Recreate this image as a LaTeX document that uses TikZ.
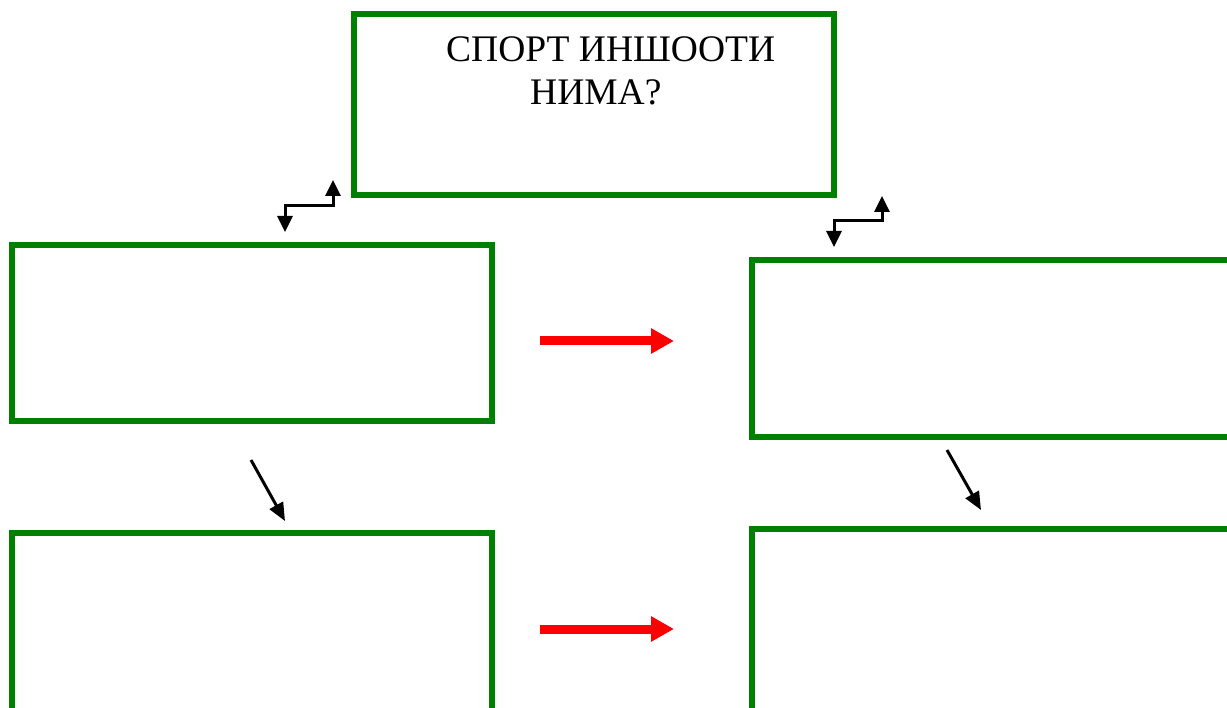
\documentclass[tikz,border=0pt]{standalone}
\usepackage{fontspec}
\setmainfont{Liberation Serif}
\usetikzlibrary{arrows.meta}
\tikzset{
  gbox/.style={draw=green!50!black, line width=5.5pt},
  blk/.style={draw=black, line width=3pt, -{Triangle[length=16pt,width=15pt]}},
  diag/.style={draw=black, line width=3pt, -{Triangle[length=18pt,width=15pt]}},
  redarr/.style={draw=red, line width=9pt, -{Triangle[length=23pt,width=24pt]}},
  title/.style={anchor=base west, inner sep=0pt, font=\fontsize{37.5}{45}\selectfont},
}
\begin{document}
\begin{tikzpicture}[x=1pt,y=-1pt]
\useasboundingbox (0,0) rectangle (1227,708);
\fill[white] (0,0) rectangle (1227,708);
% boxes
\draw[gbox] (354,14) rectangle (834,195);
\draw[gbox] (12,245) rectangle (492,421);
\draw[gbox] (12,533) rectangle (492,730);
\draw[gbox] (752,260) rectangle (1260,437);
\draw[gbox] (752,529) rectangle (1260,730);
% title
\node[title] (t1) at (446,62) {СПОРТ ИНШООТИ};
\node[title] (t2) at (530,105) {НИМА?};
% step arrows left
\coordinate (la) at (309,206);
\coordinate (lb) at (285,232);
\coordinate (lc) at (333,180);
\draw[blk] (la) -| (lb);
\draw[blk] (la) -| (lc);
% step arrows right
\coordinate (ra) at (858,221);
\coordinate (rb) at (834,247);
\coordinate (rc) at (882,196);
\draw[blk] (ra) -| (rb);
\draw[blk] (ra) -| (rc);
% red arrows
\coordinate (r1s) at (540,341);
\coordinate (r1e) at (674,341);
\coordinate (r2s) at (540,629);
\coordinate (r2e) at (674,629);
\draw[redarr] (r1s) -- (r1e);
\draw[redarr] (r2s) -- (r2e);
% diagonal arrows
\coordinate (d1s) at (251,460);
\coordinate (d1e) at (285,521);
\coordinate (d2s) at (947,450);
\coordinate (d2e) at (981,510);
\draw[diag] (d1s) -- (d1e);
\draw[diag] (d2s) -- (d2e);
\end{tikzpicture}
\end{document}
